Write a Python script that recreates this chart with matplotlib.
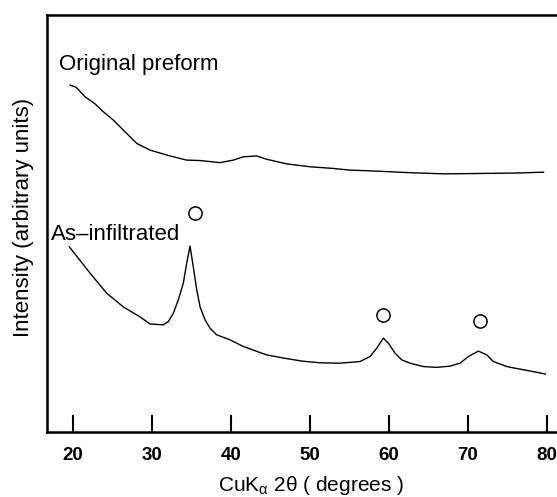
import matplotlib
matplotlib.use("Agg")
import matplotlib.pyplot as plt

plt.rcParams['font.family'] = ['Liberation Sans', 'DejaVu Sans']
plt.rcParams['mathtext.default'] = 'regular'

# ---- data (2theta in degrees, intensity in arbitrary units 0-100) ----
preform_2theta = [19.67, 20.43, 21.57, 22.83, 23.88, 25.15, 26.84, 28.11, 29.79, 32.32,
                  34.43, 36.12, 38.65, 40.33, 41.59, 43.29, 44.55, 47.08, 50.03, 52.98,
                  55.09, 58.0, 62.49, 66.98, 71.49, 75.96, 79.57]
preform_int = [83.2, 82.7, 80.4, 78.7, 76.8, 74.8, 71.6, 69.2, 67.6, 66.2,
               65.2, 65.1, 64.6, 65.2, 66.0, 66.2, 65.4, 64.3, 63.6, 63.2,
               62.8, 62.6, 62.2, 61.9, 62.0, 62.1, 62.3]

infil_2theta = [19.58, 22.20, 24.31, 26.41, 28.53, 29.79, 31.47, 32.11, 32.74, 33.37,
                34.00, 34.43, 34.85, 35.19, 35.70, 36.12, 36.75, 37.38, 38.23, 39.91,
                41.59, 44.52, 46.77, 49.02, 51.26, 53.83, 56.36, 57.62, 58.47, 59.30,
                59.94, 60.78, 61.63, 62.68, 64.36, 66.06, 67.74, 69.01, 70.06, 71.32,
                72.38, 73.22, 74.92, 75.96, 78.22, 79.80]
infil_int = [44.4, 38.1, 33.3, 30.0, 27.6, 25.9, 25.7, 26.5, 28.5, 31.7,
             35.7, 40.5, 44.6, 40.5, 34.1, 30.0, 26.9, 24.9, 23.3, 22.1,
             20.5, 18.5, 17.7, 17.0, 16.6, 16.5, 16.9, 18.1, 20.1, 22.5,
             21.3, 18.9, 17.3, 16.5, 15.7, 15.5, 15.8, 16.5, 18.1, 19.4,
             18.5, 16.9, 15.7, 15.3, 14.5, 13.9]

# peak markers (open circles)
marker_2theta = [35.5, 59.3, 71.5]
marker_int = [52.5, 28.1, 26.5]

xticks = [20, 30, 40, 50, 60, 70, 80]

fig = plt.figure(figsize=(5.57, 4.97), dpi=100)
ax = fig.add_axes([46.7 / 557, 65 / 497, 513.3 / 557, 417 / 497])

ax.plot(preform_2theta, preform_int, color='black', lw=1.0)
ax.plot(infil_2theta, infil_int, color='black', lw=1.0)
ax.plot(marker_2theta, marker_int, 'o', ms=9.5, mfc='white', mec='black', mew=1.1, ls='none')

ax.text(18.3, 88.2, 'Original preform', fontsize=16, va='center', ha='left')
ax.text(17.3, 47.4, 'As\u2013infiltrated', fontsize=16, va='center', ha='left')

ax.set_xlim(16.72, 81.65)
ax.set_ylim(0, 100)
ax.set_xticks(xticks)
ax.set_xticklabels([str(t) for t in xticks], fontsize=13.5, fontweight='bold')
ax.set_yticks([])
ax.tick_params(axis='x', direction='in', length=12, width=1.5, pad=11)
for s in ax.spines.values():
    s.set_linewidth(1.8)

fig.text(24 / 557, 1 - 217 / 497, 'Intensity (arbitrary units)', rotation=90,
         fontsize=16, ha='center', va='center')
fig.text(311 / 557, 6 / 497, 'CuK$_{\\alpha}$ 2\u03b8 ( degrees )',
         fontsize=15, ha='center', va='baseline')

fig.savefig('out.png', dpi=100)
